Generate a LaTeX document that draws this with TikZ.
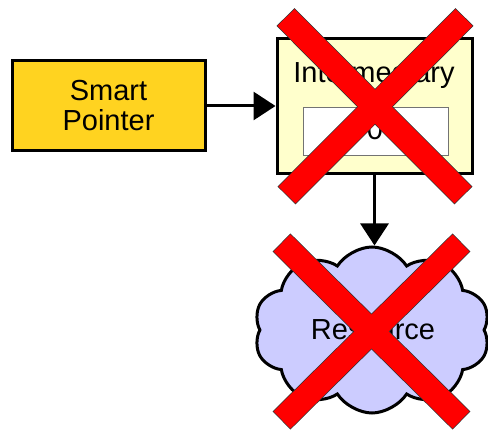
\documentclass[tikz,border=0pt]{standalone}
\usepackage{fontspec}
\setmainfont{Liberation Sans}
\usetikzlibrary{arrows.meta,calc,positioning,shapes.symbols}
\definecolor{ptrgold}{RGB}{255,211,32}
\definecolor{midyellow}{RGB}{255,255,204}
\definecolor{reslilac}{RGB}{204,204,255}
\definecolor{crossred}{RGB}{255,0,0}
\tikzset{
  box/.style={
    rectangle, draw=black, line width=3pt, align=center,
    font=\fontsize{29}{33}\selectfont, inner sep=0pt
  },
  ptrbox/.style={box, fill=ptrgold},
  midbox/.style={box, fill=midyellow},
  countbox/.style={
    rectangle, draw=black!55, fill=white, line width=0.8pt,
    font=\fontsize{29}{33}\selectfont, inner sep=0pt
  },
  resbox/.style={
    cloud, cloud puffs=10, cloud puff arc=115, aspect=1.45,
    draw=black, fill=reslilac, line width=3pt,
    font=\fontsize{29}{33}\selectfont, inner sep=0pt
  },
  arrow/.style={-{Triangle[length=22pt,width=28pt]}, line width=3pt, draw=black},
  crossrim/.style={line width=25.4pt, draw=black!80, shorten <=-0.7pt, shorten >=-0.7pt},
  crossbar/.style={line width=24pt, draw=crossred},
  note/.style={font=\fontsize{29}{33}\selectfont, inner sep=0pt}
}
\begin{document}
\begin{tikzpicture}[x=1pt,y=-1pt]
  \useasboundingbox (0,0) rectangle (488,430);
  \node[ptrbox, minimum width=193pt, minimum height=90pt] (ptr) at (108.5,106)
    {Smart\\[-3pt]Pointer};
  \node[midbox, minimum width=195pt, minimum height=135pt] (mid) at (374.5,106) {};
  \node[note, anchor=base] (midlbl) at (374,83) {Intermediary};
  \node[countbox, minimum width=145pt, minimum height=48pt] (count) at (375.5,131) {};
  \node[note, anchor=base] (countlbl) at (375,140) {0};
  \node[resbox, minimum width=236pt, minimum height=166pt] (res) at (372,330) {};
  \node[note, anchor=base] (reslbl) at (373,340) {Resource};

  \draw[arrow] (ptr.east) -- (ptr.east -| mid.west);
  \draw[arrow] (mid.south) -- (mid.south |- res.north);

  % crosses over the intermediary and the resource
  \coordinate (ma) at (286,17.5);  \coordinate (mb) at (463,195);
  \coordinate (mc) at (464,17.5);  \coordinate (md) at (287,195);
  \coordinate (ra) at (282,243);   \coordinate (rb) at (461,420);
  \coordinate (rc) at (461,243);   \coordinate (rd) at (282,420);
  \draw[crossrim] (ma) -- (mb);  \draw[crossrim] (mc) -- (md);
  \draw[crossbar] (ma) -- (mb);  \draw[crossbar] (mc) -- (md);
  \draw[crossrim] (ra) -- (rb);  \draw[crossrim] (rc) -- (rd);
  \draw[crossbar] (ra) -- (rb);  \draw[crossbar] (rc) -- (rd);
\end{tikzpicture}
\end{document}
